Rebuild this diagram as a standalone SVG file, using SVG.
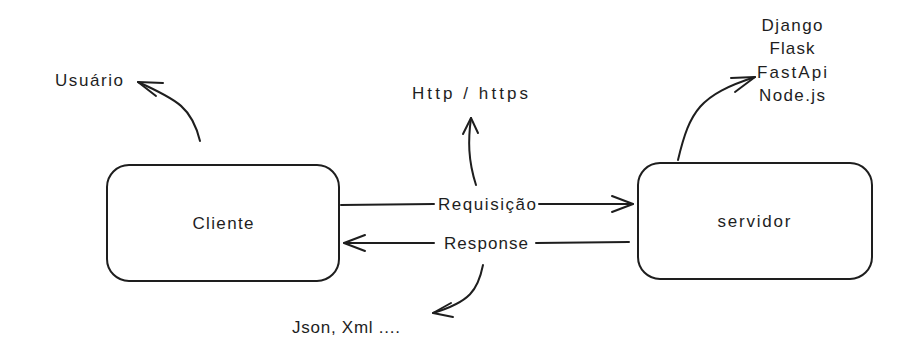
<svg xmlns="http://www.w3.org/2000/svg" width="906" height="362" viewBox="0 0 906 362">
<style>
.box{fill:#fff;stroke:#1e1e1e;stroke-width:2}
.ln{fill:none;stroke:#1e1e1e;stroke-width:2;stroke-linecap:round;stroke-linejoin:round}
.t{font-family:"Liberation Sans","DejaVu Sans",sans-serif;font-size:17px;fill:#1e1e1e;text-anchor:middle;dominant-baseline:central}
</style>
<rect width="906" height="362" fill="#fff"/>
<g id="connectors">
  <g id="req">
    <path class="ln" d="M341,205 L434,204"/>
    <path class="ln" d="M539,204 L633,204"/>
    <path class="ln" d="M612,196 L633,204 L612,212"/>
  </g>
  <g id="resp">
    <path class="ln" d="M629,242 L536,243"/>
    <path class="ln" d="M434,243 L344,243"/>
    <path class="ln" d="M365,235 L344,243 L365,251"/>
  </g>
  <path class="ln" d="M200,141 C192,108 178,100 138,82"/>
  <path class="ln" d="M163,83 L138,82 L156,96"/>
  <path class="ln" d="M476,185 C468,160 468,140 471,118"/>
  <path class="ln" d="M463,134 L471,118 L478,133"/>
  <path class="ln" d="M678,160 C690,110 700,95 755,77"/>
  <path class="ln" d="M731,78 L755,77 L735,92"/>
  <path class="ln" d="M483,265 C478,290 470,302 433,313"/>
  <path class="ln" d="M451,303 L433,313 L453,317"/>
</g>
<g id="cliente">
  <rect class="box" x="107" y="165" width="232" height="116" rx="22"/>
  <text class="t" x="223" y="223" textLength="61" lengthAdjust="spacing">Cliente</text>
</g>
<g id="servidor">
  <rect class="box" x="638" y="163" width="234" height="116" rx="22"/>
  <text class="t" x="754" y="221" textLength="73" lengthAdjust="spacing">servidor</text>
</g>
<g id="labels">
  <text class="t" x="487" y="204" textLength="98" lengthAdjust="spacing">Requisição</text>
  <text class="t" x="486" y="243" textLength="84" lengthAdjust="spacing">Response</text>
  <text class="t" x="89" y="80" textLength="68" lengthAdjust="spacing">Usuário</text>
  <text class="t" x="470" y="93" textLength="116" lengthAdjust="spacing">Http / https</text>
  <text class="t" x="792" y="25" textLength="61" lengthAdjust="spacing">Django</text>
  <text class="t" x="792" y="48" textLength="45" lengthAdjust="spacing">Flask</text>
  <text class="t" x="792" y="72" textLength="70" lengthAdjust="spacing">FastApi</text>
  <text class="t" x="792" y="95" textLength="66" lengthAdjust="spacing">Node.js</text>
  <text class="t" x="346" y="327" textLength="108" lengthAdjust="spacing">Json, Xml ....</text>
</g>
</svg>
